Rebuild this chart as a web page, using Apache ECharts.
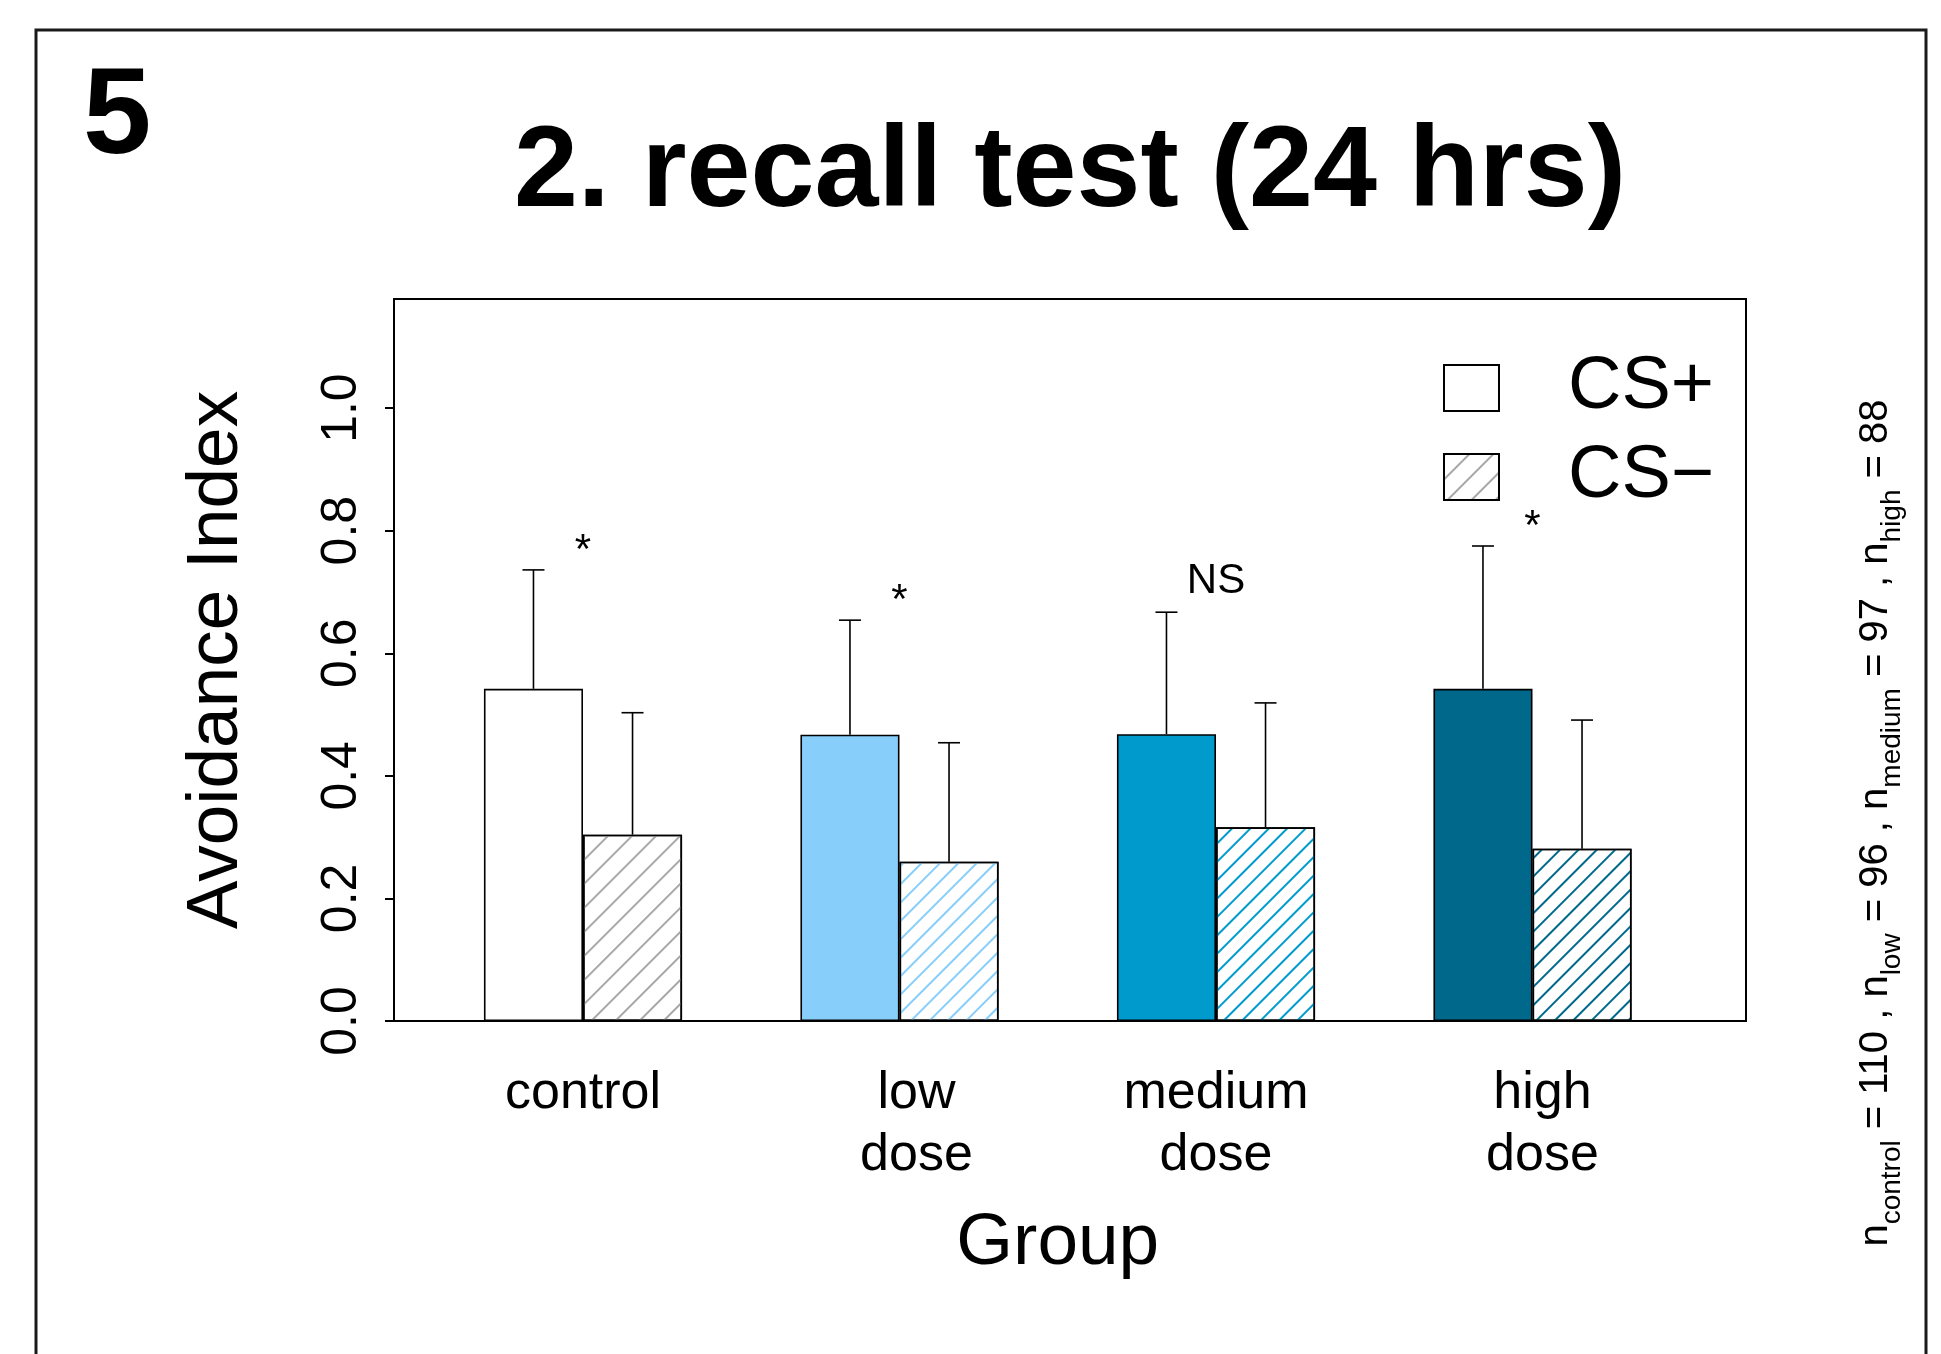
<!DOCTYPE html>
<html><head><meta charset="utf-8">
<script src="https://cdn.jsdelivr.net/npm/echarts@6/dist/echarts.min.js"></script>
<style>html,body{margin:0;padding:0;background:#fff}#c{width:1941px;height:1354px}</style>
</head><body><div id="c"></div>
<script>
// ---- data ----
const categories = ['control', 'low\ndose', 'medium\ndose', 'high\ndose'];
const seriesNames = ['CS+', 'CS\u2212'];
const csPlusMean = [0.542, 0.467, 0.468, 0.542];
const csPlusSD = [0.194, 0.187, 0.199, 0.233];
const csMinusMean = [0.304, 0.260, 0.316, 0.281];
const csMinusSD = [0.199, 0.194, 0.203, 0.210];
const sigLabels = ['*', '*', 'NS', '*'];
const sigLabelY = [0.782, 0.701, 0.717, 0.822];
const yTicks = [0, 0.2, 0.4, 0.6, 0.8, 1.0];
const yMax = 1.178;
const nGroups = ['control', 'low', 'medium', 'high'];
const nValues = [110, 96, 97, 88];
const panelLabel = '5';
const titleText = '2. recall test (24 hrs)';
const yName = 'Avoidance Index';
const xName = 'Group';

// ---- styles ----
const FONT = '"Liberation Sans", Arial, Helvetica, sans-serif';
const fillColors = ['#ffffff', '#87CEFA', '#009ACD', '#00688B'];
const hatchColors = ['#a8a8a8', '#87CEFA', '#009ACD', '#00688B'];
const labelShift = [0, 34, 0, 20]; // extra left padding on category labels (style)
const BAR_RATIO = 0.313;

function hatch(color, i) {
  return {
    symbol: 'rect', symbolSize: 1,
    dashArrayX: [1, 0],
    dashArrayY: i === 0 ? [2, 15] : [1.5, 10.5],
    rotation: -Math.PI / 4,
    color: color
  };
}

function errSeries(means, sds, side) {
  return {
    type: 'custom', xAxisIndex: 0, yAxisIndex: 0, silent: true, z: 5,
    encode: { x: 0, y: [1, 2] },
    data: means.map((m, i) => [i, m, m + sds[i]]),
    renderItem(params, api) {
      const bw = api.size([1, 0])[0];
      const off = side * bw * BAR_RATIO / 2;
      const p0 = api.coord([api.value(0), api.value(1)]);
      const p1 = api.coord([api.value(0), api.value(2)]);
      const x = p0[0] + off, cap = 11;
      return { type: 'group', children: [
        { type: 'line', shape: { x1: x, y1: p0[1], x2: x, y2: p1[1] }, style: { stroke: '#000', lineWidth: 1.6 } },
        { type: 'line', shape: { x1: x - cap, y1: p1[1], x2: x + cap, y2: p1[1] }, style: { stroke: '#000', lineWidth: 1.6 } }
      ]};
    }
  };
}

const noteText = nGroups.map((g, i) => 'n{sub|' + g + '}' + ' = ' + nValues[i]).join(' , ');

const catRich = {};
labelShift.forEach((s, i) => { catRich['c' + i] = { fontSize: 52, lineHeight: 62, padding: [0, 0, 0, s], fontFamily: FONT, color: '#000' }; });

const chart = echarts.init(document.getElementById('c'), null, { renderer: 'canvas' });
chart.setOption({
  animation: false,
  backgroundColor: '#ffffff',
  textStyle: { fontFamily: FONT, color: '#000' },
  grid: [
    { left: 424.75, top: 299, width: 1266, height: 722 },
    { left: 394, top: 299, width: 1352, height: 722, show: true, borderColor: '#000', borderWidth: 2, backgroundColor: 'transparent', z: 1 }
  ],
  xAxis: [
    { type: 'category', gridIndex: 0, data: categories,
      axisLine: { show: false }, axisTick: { show: false },
      axisLabel: { interval: 0, fontSize: 52, lineHeight: 62, color: '#000', margin: 42, fontFamily: FONT,
        formatter: (v, i) => v.split('\n').map(s => '{c' + i + '|' + s + '}').join('\n'),
        rich: catRich },
      name: xName, nameLocation: 'middle', nameGap: 186,
      nameTextStyle: { fontSize: 73, color: '#000', fontFamily: FONT } },
    { type: 'value', gridIndex: 1, show: false, min: 0, max: 1 }
  ],
  yAxis: [
    { type: 'value', gridIndex: 0, min: 0, max: yMax, offset: 30.75,
      axisLine: { show: false },
      axisTick: { show: true, length: 9, lineStyle: { color: '#000', width: 2 }, customValues: yTicks },
      axisLabel: { customValues: yTicks, rotate: 90, fontSize: 50, margin: 27, color: '#000', fontFamily: FONT,
        formatter: v => Number(v).toFixed(1) },
      splitLine: { show: false },
      name: yName, nameLocation: 'middle', nameRotate: 90, nameGap: 141,
      nameTextStyle: { fontSize: 73, color: '#000', fontFamily: FONT } },
    { type: 'value', gridIndex: 1, show: false, min: 0, max: 1 }
  ],
  legend: {
    orient: 'vertical', left: 1443, top: 351, padding: 0,
    itemWidth: 55, itemHeight: 46, itemGap: 15, icon: 'rect', selectedMode: false,
    data: seriesNames,
    textStyle: { fontSize: 74, color: '#000', fontFamily: FONT, padding: [0, 0, 0, 64] }
  },
  series: [
    { name: seriesNames[0], type: 'bar', xAxisIndex: 0, yAxisIndex: 0, barWidth: (BAR_RATIO * 100) + '%', barGap: '0%', z: 3,
      itemStyle: { color: '#ffffff', borderColor: '#000', borderWidth: 1.6 },
      emphasis: { disabled: true },
      data: csPlusMean.map((v, i) => ({ value: v, itemStyle: { color: fillColors[i] } })) },
    { name: seriesNames[1], type: 'bar', xAxisIndex: 0, yAxisIndex: 0, barWidth: (BAR_RATIO * 100) + '%', barGap: '0%', z: 3,
      itemStyle: { color: '#ffffff', borderColor: '#000', borderWidth: 1.6, decal: hatch(hatchColors[0], 0) },
      emphasis: { disabled: true },
      data: csMinusMean.map((v, i) => ({ value: v, itemStyle: { color: '#ffffff', decal: hatch(hatchColors[i], i) } })) },
    errSeries(csPlusMean, csPlusSD, -1),
    errSeries(csMinusMean, csMinusSD, 1),
    { type: 'custom', xAxisIndex: 0, yAxisIndex: 0, silent: true, z: 6,
      encode: { x: 0, y: 1 },
      data: sigLabels.map((t, i) => [i, sigLabelY[i]]),
      renderItem(params, api) {
        const p = api.coord([api.value(0), api.value(1)]);
        const t = sigLabels[params.dataIndex];
        return { type: 'text', x: p[0], y: p[1] + (t === '*' ? 10 : 0),
          style: { text: t, fontSize: 42, fill: '#000', align: 'center', verticalAlign: 'middle', fontFamily: FONT } };
      } }
  ],
  graphic: [
    { type: 'rect', z: -1, silent: true, shape: { x: 36, y: 30, width: 1890, height: 1400 },
      style: { fill: 'none', stroke: '#1a1a1a', lineWidth: 3 } },
    { type: 'text', x: 83, y: 119, silent: true,
      style: { text: panelLabel, fontSize: 123, fontWeight: 'bold', fill: '#000', align: 'left', verticalAlign: 'middle', fontFamily: FONT } },
    { type: 'text', x: 1070, y: 174, silent: true,
      style: { text: titleText, fontSize: 115, fontWeight: 'bold', fill: '#000', align: 'center', verticalAlign: 'middle', fontFamily: FONT } },
    { type: 'text', x: 1876, y: 823, rotation: Math.PI / 2, silent: true,
      style: { text: noteText, fontSize: 40, lineHeight: 60, fill: '#000', align: 'center', verticalAlign: 'middle', fontFamily: FONT,
        rich: { sub: { fontSize: 28, lineHeight: 32, verticalAlign: 'bottom', fontFamily: FONT, fill: '#000' } } } }
  ]
});
</script>
</body></html>
